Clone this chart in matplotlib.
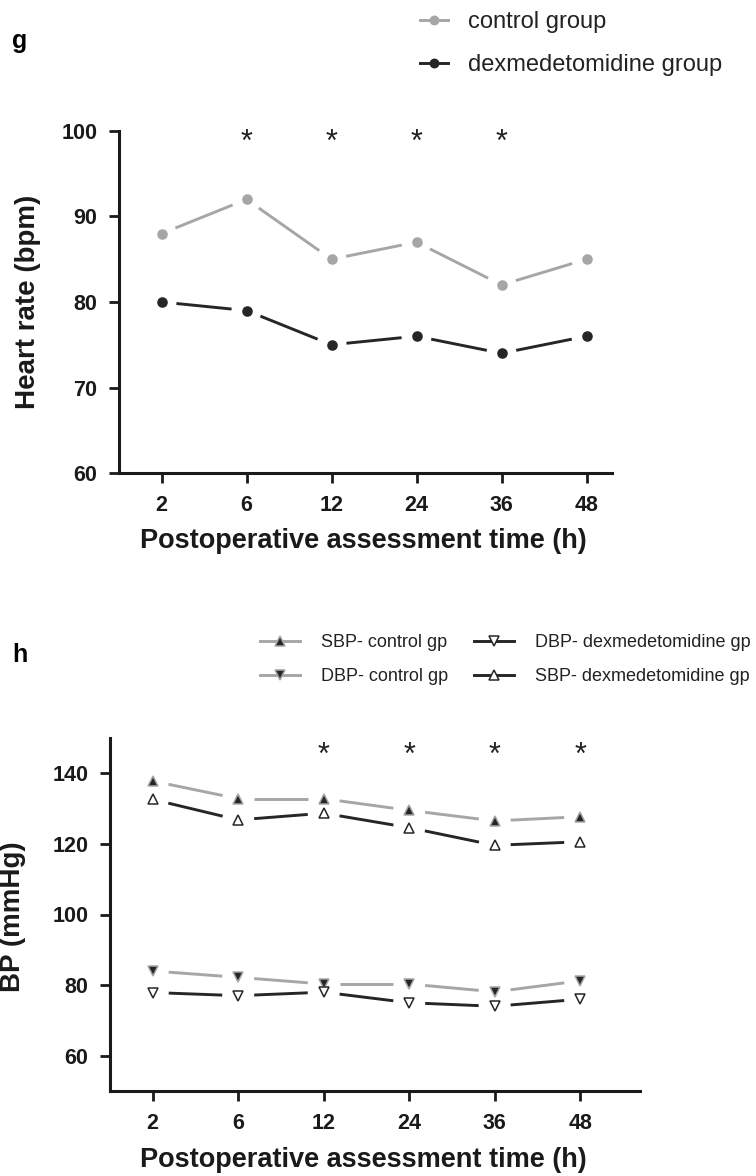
import matplotlib
matplotlib.use("Agg")
import numpy as np
import matplotlib.pyplot as plt
from matplotlib.lines import Line2D

plt.rcParams['font.family'] = ['Liberation Sans', 'DejaVu Sans']

# ---------------- data ----------------
time_labels = ["2", "6", "12", "24", "36", "48"]

hr_control = [88, 92, 85, 87, 82, 85]
hr_dex = [80, 79, 75, 76, 74, 76]
hr_sig = [1, 2, 3, 4]          # indices marked with *

sbp_control = [137.8, 132.8, 132.8, 129.5, 126.5, 127.7]
dbp_control = [84.0, 82.2, 80.3, 80.3, 78.1, 81.2]
dbp_dex = [77.9, 77.0, 78.0, 75.0, 74.0, 76.0]
sbp_dex = [132.6, 126.8, 128.7, 124.6, 119.6, 120.6]
bp_sig = [2, 3, 4, 5]

GRAY = "#a6a6a6"
DARK = "#262626"
INK = "#1a1a1a"

W, H = 756, 1176
fig = plt.figure(figsize=(W / 100, H / 100), dpi=100)


def px_axes(left, top, right, bottom):
    return fig.add_axes([left / W, 1 - bottom / H, (right - left) / W, (bottom - top) / H])


def style(ax):
    for s in ("top", "right"):
        ax.spines[s].set_visible(False)
    for s in ("left", "bottom"):
        ax.spines[s].set_linewidth(2.2)
        ax.spines[s].set_color(INK)
    ax.tick_params(direction="out", length=7.5, width=2.0, color=INK,
                   labelsize=15.5, pad=8)
    for lab in ax.get_xticklabels() + ax.get_yticklabels():
        lab.set_fontweight("bold")
        lab.set_color(INK)


def series(ax, y, color, marker, mfc, ms, gap_px, lw=2.1):
    """Draw connecting segments that stop short of each marker (GraphPad style)."""
    x = np.arange(len(y), dtype=float)
    pts = ax.transData.transform(np.column_stack([x, np.asarray(y, float)]))
    inv = ax.transData.inverted()
    for i in range(len(pts) - 1):
        p0, p1 = pts[i], pts[i + 1]
        d = p1 - p0
        u = d / np.hypot(*d)
        seg = inv.transform(np.vstack([p0 + u * gap_px, p1 - u * gap_px]))
        ax.plot(seg[:, 0], seg[:, 1], color=color, lw=lw, zorder=2,
                solid_capstyle="butt")
    ax.plot(x, y, linestyle="none", marker=marker, ms=ms, mfc=mfc,
            mec=DARK if mfc == "white" else color, mew=1.1, zorder=4)
    return Line2D([], [], color=color, lw=lw, marker=marker, ms=ms - 0.5, mfc=mfc,
                  mec=DARK if mfc == "white" else color, mew=1.1)


# ---------------- panel g ----------------
ax1 = px_axes(119, 131, 612, 473)
ax1.set_xlim(-0.5, 5.3)
ax1.set_ylim(60, 100)
h1 = series(ax1, hr_control, GRAY, "o", GRAY, 6.5, 15)
h2 = series(ax1, hr_dex, DARK, "o", DARK, 6.5, 15)
ax1.set_yticks([60, 70, 80, 90, 100])
ax1.set_xticks(range(len(time_labels)))
ax1.set_xticklabels(time_labels)
style(ax1)
for i in hr_sig:
    ax1.text(i, 98.6, "*", ha="center", va="center", fontsize=22, color="#222222")

fig.text(28 / W, 1 - 302 / H, "Heart rate (bpm)", rotation=90, ha="center",
         va="center", fontsize=20, fontweight="bold", color=INK)
fig.text(363 / W, 1 - 541 / H, "Postoperative assessment time (h)", ha="center",
         va="center", fontsize=19.5, fontweight="bold", color=INK)
fig.text(20 / W, 1 - 41 / H, "g", ha="center", va="center", fontsize=18,
         fontweight="bold")

leg1 = fig.legend([h1, h2], ["control group", "dexmedetomidine group"],
                  loc="upper left", bbox_to_anchor=(420 / W, 1 - 11 / H),
                  frameon=False, fontsize=17, handlelength=1.2,
                  handletextpad=0.85, labelspacing=0.9, borderpad=0,
                  borderaxespad=0)
for t in leg1.get_texts():
    t.set_color("#222222")

# ---------------- panel h ----------------
ax2 = px_axes(110, 738, 640, 1091)
ax2.set_xlim(-0.5, 5.7)
ax2.set_ylim(50, 150)
s1 = series(ax2, sbp_control, GRAY, "^", DARK, 7.5, 16)
s2 = series(ax2, dbp_control, GRAY, "v", DARK, 7.5, 16)
s3 = series(ax2, dbp_dex, DARK, "v", "white", 7.5, 16)
s4 = series(ax2, sbp_dex, DARK, "^", "white", 7.5, 16)
ax2.set_yticks([60, 80, 100, 120, 140])
ax2.set_xticks(range(len(time_labels)))
ax2.set_xticklabels(time_labels)
style(ax2)
for i in bp_sig:
    ax2.text(i, 144.8, "*", ha="center", va="center", fontsize=22, color="#222222")

fig.text(13 / W, 1 - 917 / H, "BP (mmHg)", rotation=90, ha="center",
         va="center", fontsize=20, fontweight="bold", color=INK)
fig.text(363 / W, 1 - 1160 / H, "Postoperative assessment time (h)", ha="center",
         va="center", fontsize=19.5, fontweight="bold", color=INK)
fig.text(20 / W, 1 - 655 / H, "h", ha="center", va="center", fontsize=18,
         fontweight="bold")

leg2 = fig.legend([s1, s2, s3, s4],
                  ["SBP- control gp", "DBP- control gp",
                   "DBP- dexmedetomidine gp", "SBP- dexmedetomidine gp"],
                  ncol=2, loc="upper left", bbox_to_anchor=(260 / W, 1 - 634 / H),
                  frameon=False, fontsize=13, handlelength=2.2,
                  handletextpad=1.2, labelspacing=0.95, columnspacing=1.4,
                  borderpad=0, borderaxespad=0)
for t in leg2.get_texts():
    t.set_color("#222222")

fig.savefig("out.png", dpi=100)
